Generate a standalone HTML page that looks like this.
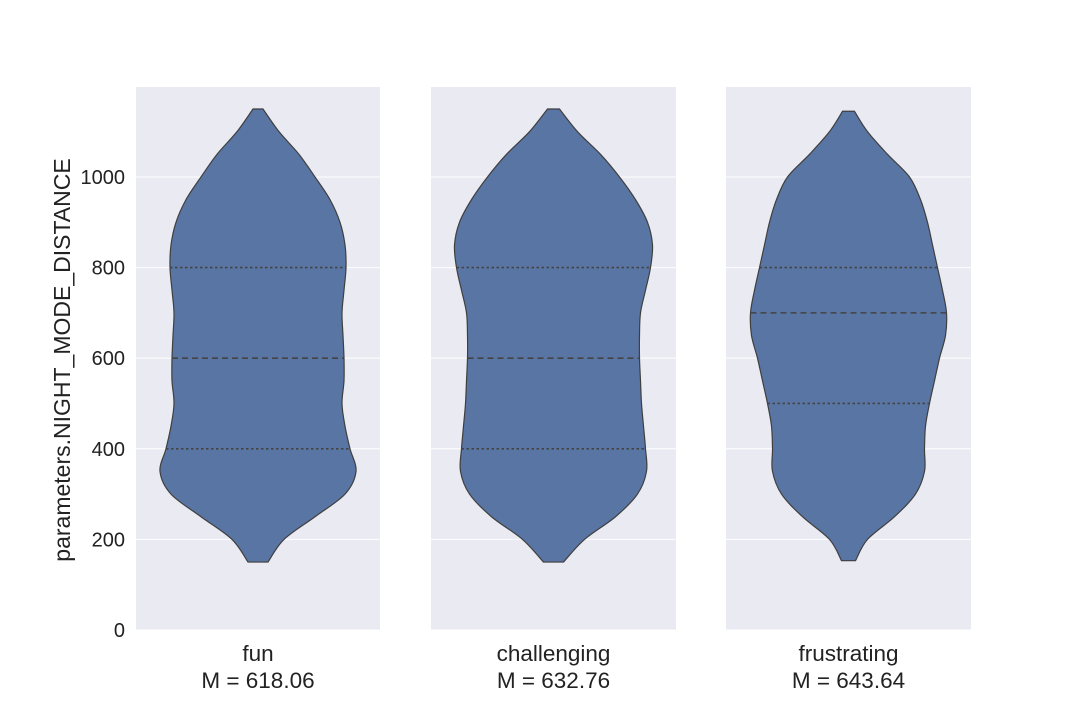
<!DOCTYPE html>
<html><head><meta charset="utf-8">
<style>
body{margin:0;background:#fff;}
svg{display:block;font-family:"Liberation Sans","DejaVu Sans",sans-serif;}
</style></head>
<body>
<svg id="chart" width="1080" height="720"></svg>
<script>
const categories=["fun","challenging","frustrating"];
const means=["618.06","632.76","643.64"];
const yTicks=[0,200,400,600,800,1000];
const funVals=[150,200,250,300,350,400,450,500,550,600,650,700,750,800,850,900,950,1000,1050,1100,1150];
const funWidth=[10,26,57,87,98,92,87,84,86,86,85,84,86,88,87,82,72,57,41,21,5];
const chalVals=[150,200,250,300,350,400,450,500,550,600,650,700,750,800,850,900,950,1000,1050,1100,1150];
const chalWidth=[10,31,62,84,93,92,90,88,87,86,86,87,92,97,99,94,82,66,47,24,6];
const frusVals=[153,200,250,300,350,400,450,500,550,600,650,700,750,800,850,900,950,1000,1050,1100,1145];
const frusWidth=[7,19,46,67,76,76,77,81,86,91,97,98,94,89,84,79,72,61,39,19,6];
const quartiles=[[400,600,800],[400,600,800],[500,700,800]];

const NS="http://www.w3.org/2000/svg";
const svg=document.getElementById('chart');
const panels=[{x0:136,x1:380},{x0:431,x1:676},{x0:726,x1:971}];
const yTop=87,yBot=630,yMax=1198.6;
function yS(v){return yBot-(v/yMax)*(yBot-yTop);}
function mk(tag,attrs){const e=document.createElementNS(NS,tag);for(const k in attrs)e.setAttribute(k,attrs[k]);svg.appendChild(e);return e;}
function interpW(vals,w,v){
  for(let i=0;i<vals.length-1;i++){if(v>=vals[i]&&v<=vals[i+1]){const t=(v-vals[i])/(vals[i+1]-vals[i]);return w[i]+t*(w[i+1]-w[i]);}}
  return 0;
}
function smoothPath(pts){
  let d="M"+pts[0][0]+","+pts[0][1];
  for(let i=0;i<pts.length-1;i++){
    const p0=pts[Math.max(0,i-1)],p1=pts[i],p2=pts[i+1],p3=pts[Math.min(pts.length-1,i+2)];
    const c1=[p1[0]+(p2[0]-p0[0])/6,p1[1]+(p2[1]-p0[1])/6];
    const c2=[p2[0]-(p3[0]-p1[0])/6,p2[1]-(p3[1]-p1[1])/6];
    d+=" C"+c1[0]+","+c1[1]+" "+c2[0]+","+c2[1]+" "+p2[0]+","+p2[1];
  }
  return d;
}
const series=[[funVals,funWidth],[chalVals,chalWidth],[frusVals,frusWidth]];
panels.forEach((p,i)=>{
  const bg=mk('rect',{x:p.x0,y:yTop,width:p.x1-p.x0,height:yBot-yTop,fill:'#eaeaf2'});
  
  
  yTicks.forEach(t=>{
    const g=mk('line',{x1:p.x0,x2:p.x1,y1:yS(t),y2:yS(t),stroke:'#fff','stroke-width':1});
    
    
  });
  const cx=(p.x0+p.x1)/2;
  const [vals,w]=series[i];
  const right=vals.map((v,j)=>[cx+w[j],yS(v)]);
  const left=vals.map((v,j)=>[cx-w[j],yS(v)]).reverse();
  let d=smoothPath(right)+" L"+left[0][0]+","+left[0][1]+smoothPath(left).replace(/^M[^C]*/," ")+" Z";
  const path=mk('path',{d:d,fill:'#5975a4',stroke:'#3f3f3f','stroke-width':1.2});
  
  
  quartiles[i].forEach((q,k)=>{
    const hw=interpW(vals,w,q);
    const ln=mk('line',{x1:cx-hw,x2:cx+hw,y1:yS(q),y2:yS(q),stroke:'#444','stroke-width':1.6,'stroke-dasharray':k==1?'6,4':'2.5,2.5'});
    
    
  });
  const l1=mk('text',{x:cx,y:661,'text-anchor':'middle','font-size':22.5,fill:'#222'});
  l1.textContent=categories[i];
  
  
  const l2=mk('text',{x:cx,y:688,'text-anchor':'middle','font-size':22.5,fill:'#222'});
  l2.textContent="M = "+means[i];
  
  
});
yTicks.forEach(t=>{
  const tx=mk('text',{x:125,y:yS(t)+7,'text-anchor':'end','font-size':20,fill:'#222'});
  tx.textContent=t;
  
  
});
const yt=mk('text',{x:0,y:0,'text-anchor':'middle','font-size':23,fill:'#222',transform:'translate(70,360) rotate(-90)'});
yt.textContent="parameters.NIGHT_MODE_DISTANCE";


</script>
</body></html>
